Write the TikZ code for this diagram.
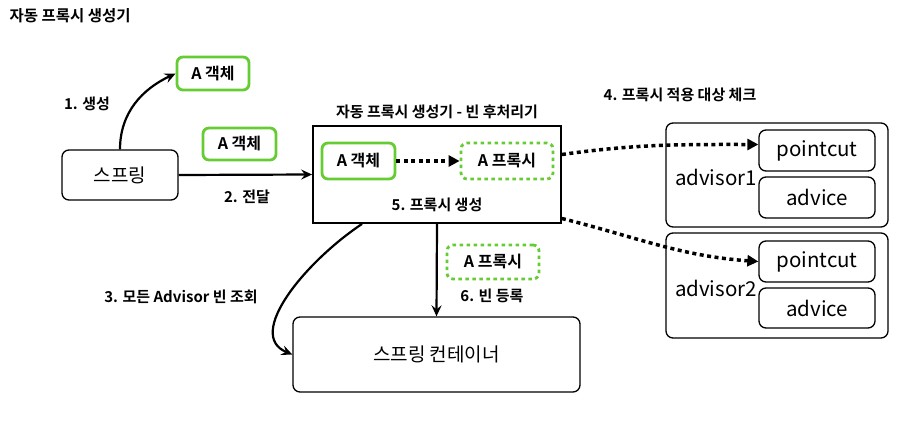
\documentclass[tikz,border=0pt]{standalone}
\usepackage{fontspec}
\setmainfont{Noto Sans CJK KR}[BoldFont={Noto Sans CJK KR Bold}]
\usetikzlibrary{arrows.meta,calc}
\definecolor{objgreen}{HTML}{66CC33}

\begin{document}
\begin{tikzpicture}[x=1pt, y=-1pt,
		box/.style={draw, line width=1.3pt, rounded corners=7pt, inner sep=0pt},
		bigtext/.style={font=\fontsize{19}{21}\selectfont},
		advtext/.style={font=\fontsize{20.5}{22}\selectfont},
		objbox/.style={draw=objgreen, line width=2.8pt, rounded corners=6pt, inner sep=0pt, font=\bfseries\fontsize{16}{18}\selectfont},
		proxybox/.style={objbox, dash pattern=on 3.5pt off 3.5pt},
		lbl/.style={font=\bfseries\fontsize{15}{17}\selectfont},
		solidarrow/.style={line width=2.2pt, -{Stealth[length=11pt, width=10pt, inset=4pt]}},
		dotarrow/.style={line width=3.5pt, dash pattern=on 4pt off 3.5pt, -{Triangle[length=11pt, width=11pt]}}]
			%%%%% START %%%%%
			
			\useasboundingbox (0, 0) rectangle (912, 431);
			
			\node[lbl, anchor=west, font=\bfseries\fontsize{15.5}{17}\selectfont] (title) at (6, 16) {자동 프록시 생성기};
			
			\node[box, bigtext, minimum width=116pt, minimum height=50pt] (spring) at (120, 175) {스프링};
			\node[objbox, minimum width=72pt, minimum height=33pt] (objtop) at (213, 73.5) {A 객체};
			\node[objbox, minimum width=73pt, minimum height=32pt] (objpass) at (239.5, 144) {A 객체};
			
			\node[draw, line width=1.8pt, minimum width=248pt, minimum height=97pt, inner sep=0pt] (bpp) at (437, 174.5) {};
			\node[lbl] (bpptitle) at (437, 112) {자동 프록시 생성기 - 빈 후처리기};
			\node[objbox, minimum width=73pt, minimum height=36pt] (objin) at (358.5, 161) {A 객체};
			\node[proxybox, minimum width=92pt, minimum height=36pt] (proxyin) at (507, 161) {A 프록시};
			\node[lbl] (step5) at (437, 205) {5. 프록시 생성};
			
			\node[box, bigtext, minimum width=287pt, minimum height=75pt] (container) at (436.5, 354.5) {스프링 컨테이너};
			\node[proxybox, minimum width=92pt, minimum height=34pt] (proxyout) at (493, 262) {A 프록시};
			
			% advisors
			\node[box, minimum width=222pt, minimum height=104pt] (adv1) at (777, 175) {};
			\node[box, advtext, minimum width=116pt, minimum height=41pt] (pc1) at (817, 150.5) {pointcut};
			\node[box, advtext, minimum width=116pt, minimum height=41pt] (ad1) at (817, 197.5) {advice};
			\node[advtext] (adv1lbl) at (716, 177) {advisor1};
			
			\node[box, minimum width=222pt, minimum height=105pt] (adv2) at (777, 285.5) {};
			\node[box, advtext, minimum width=116pt, minimum height=41pt] (pc2) at (817, 261.5) {pointcut};
			\node[box, advtext, minimum width=116pt, minimum height=40pt] (ad2) at (817, 308) {advice};
			\node[advtext] (adv2lbl) at (716, 288) {advisor2};
			
			\node[lbl] (step1) at (87, 104) {1. 생성};
			\node[lbl] (step2) at (247, 197) {2. 전달};
			\node[lbl] (step3) at (181, 297) {3. 모든 Advisor 빈 조회};
			\node[lbl] (step4) at (680, 95) {4. 프록시 적용 대상 체크};
			\node[lbl] (step6) at (492, 296) {6. 빈 등록};
			
			\coordinate (bppleft) at ($(bpp.south west)!0.2!(bpp.south east)$);
			
			\draw[solidarrow] (spring.north) to[out=90, in=205] (objtop.west);
			\draw[solidarrow] (spring.east) -- (bpp.west);
			\draw[solidarrow] (bppleft) .. controls (305, 262) and (245, 335) .. (container.west);
			\draw[solidarrow] (bpp.south) -- (container.north);
			
			\draw[dotarrow] (objin.east) -- (proxyin.west);
			\draw[dotarrow] ([yshift=20pt]bpp.east) to[out=8, in=180] ([yshift=6pt]pc1.west);
			\draw[dotarrow] ([yshift=-44pt]bpp.east) to[out=-14, in=176] (pc2.west);
			
			%%%%% END %%%%%
		\end{tikzpicture}
\end{document}
